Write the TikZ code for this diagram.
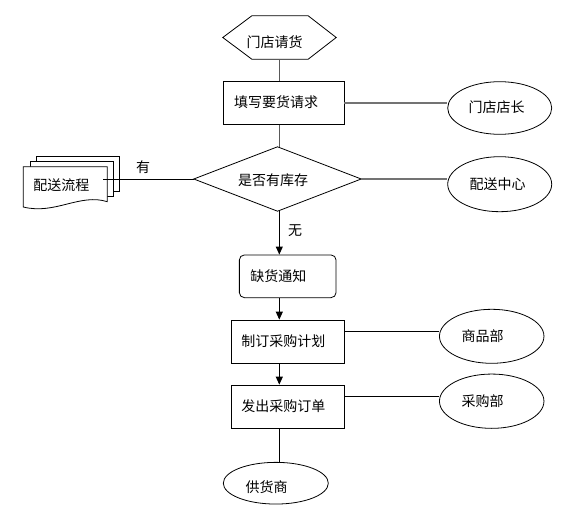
\documentclass[tikz,border=0pt]{standalone}
\usepackage{fontspec}
\newfontfamily\cjk{Noto Sans CJK SC}
\usetikzlibrary{arrows.meta,shapes.geometric}
\begin{document}
\begin{tikzpicture}[x=1pt,y=-1pt,
  every node/.style={font=\cjk\fontsize{14}{14}\selectfont, inner sep=0pt},
  outline/.style={draw=black, line width=0.8pt, fill=white},
  procbox/.style={outline, rectangle, minimum width=113pt, minimum height=43.3pt},
  ell/.style={outline, ellipse, minimum width=104.5pt, minimum height=54pt},
  ghost/.style={rectangle, draw=none},
  sheet/.style={draw=black, line width=0.8pt, fill=white},
  greyline/.style={draw=black!55, line width=1.9pt},
  midline/.style={draw=black!65, line width=1.3pt},
  blackline/.style={draw=black, line width=0.9pt},
  arrowline/.style={blackline, -{Triangle[length=8pt,width=7pt]}}
]
\useasboundingbox (0,0) rectangle (580,513);
\fill[white] (0,0) rectangle (580,513);

% spine x
\coordinate (sp) at (279.3,0);

% hexagon start
\node[ghost, minimum width=113pt, minimum height=43pt] (req) at (279.5,37.5) {};
\draw[outline] (req.west) -- ([xshift=29pt]req.north west) -- ([xshift=-28pt]req.north east)
  -- (req.east) -- ([xshift=-28pt]req.south east) -- ([xshift=29pt]req.south west) -- cycle;
\node[ghost] (reqtxt) at ([xshift=-5pt,yshift=-4.5pt]req.center) {门店请货};

% fill request
\node[procbox, minimum width=121pt, label={[xshift=-7.5pt,yshift=1pt]center:填写要货请求}] (fill) at (283.5,102.7) {};

% store manager
\node[ell, minimum width=104pt, minimum height=52.6pt, label={[xshift=-3pt,yshift=1pt]center:门店店长}] (boss) at (499.7,108) {};

% decision diamond
\node[ghost, minimum width=167pt, minimum height=64pt] (dia) at (277.5,179) {};
\draw[outline] (dia.west) -- (dia.north) -- (dia.east) -- (dia.south) -- cycle;
\node[ghost] (diatxt) at ([xshift=-4.5pt,yshift=-1pt]dia.center) {是否有库存};

% distribution centre
\node[ell, minimum width=104pt, minimum height=55pt, label={[xshift=-2pt]center:配送中心}] (dist) at (499.7,184.2) {};

% document stack
\draw[sheet] (36,156.7) rectangle (119.3,191.7);
\draw[sheet] (30,161.7) rectangle (113.3,196.7);
\draw[sheet] (23.3,166.7) -- (107.3,166.7) -- (107.3,201.7)
  .. controls (80,193) and (55,215) .. (23.3,207) -- cycle;
\node[ghost] (flow) at (61.3,185.5) {配送流程};
\coordinate (flowend) at (103,179);

% shortage notice
\node[outline, rectangle, rounded corners=5pt, minimum width=96.7pt, minimum height=42.7pt,
  label={[xshift=-9.4pt,yshift=0.5pt]center:缺货通知}] (short) at (287.7,276.3) {};

% purchase plan
\node[procbox, label={[xshift=-4.2pt,yshift=0.9pt]center:制订采购计划}] (plan) at (287.5,341.7) {};
\node[ell, label={[xshift=-9.2pt]center:商品部}] (goods) at (491.7,336.3) {};

% purchase order
\node[procbox, label={[xshift=-4.2pt,yshift=0.4pt]center:发出采购订单}] (order) at (287.5,406.7) {};
\node[ell, minimum height=54.3pt, label={[xshift=-9.2pt]center:采购部}] (purch) at (491.7,401.2) {};

% supplier
\node[ell, minimum width=105pt, minimum height=41.7pt, label={[xshift=-9.3pt,yshift=-3.5pt]center:供货商}] (sup) at (275.8,483.2) {};

% connectors
\draw[midline] (req.south -| sp) -- (fill.north -| sp);
\draw[midline] (fill.south -| sp) -- (dia.north -| sp);
\draw[greyline] (fill.east |- 0,102.7) -- (boss.west |- 0,102.7);
\draw[greyline] (dia.east) -- (dist.west |- dia.east);
\draw[blackline] (dia.west) -- (flowend);
\node[ghost] (yes) at (143,166.7) {有};
\draw[arrowline] (dia.south -| sp) -- (short.north -| sp);
\node[ghost] (no) at (295,230.8) {无};
\draw[arrowline] (short.south -| sp) -- (plan.north -| sp);
\draw[arrowline] (plan.south -| sp) -- (order.north -| sp);
\draw[blackline] (plan.east |- 0,331) -- (goods.west |- 0,331);
\draw[blackline] (order.east |- 0,396) -- (purch.west |- 0,396);
\draw[blackline] (order.south -| sp) -- (sup.north -| sp);
\end{tikzpicture}
\end{document}
